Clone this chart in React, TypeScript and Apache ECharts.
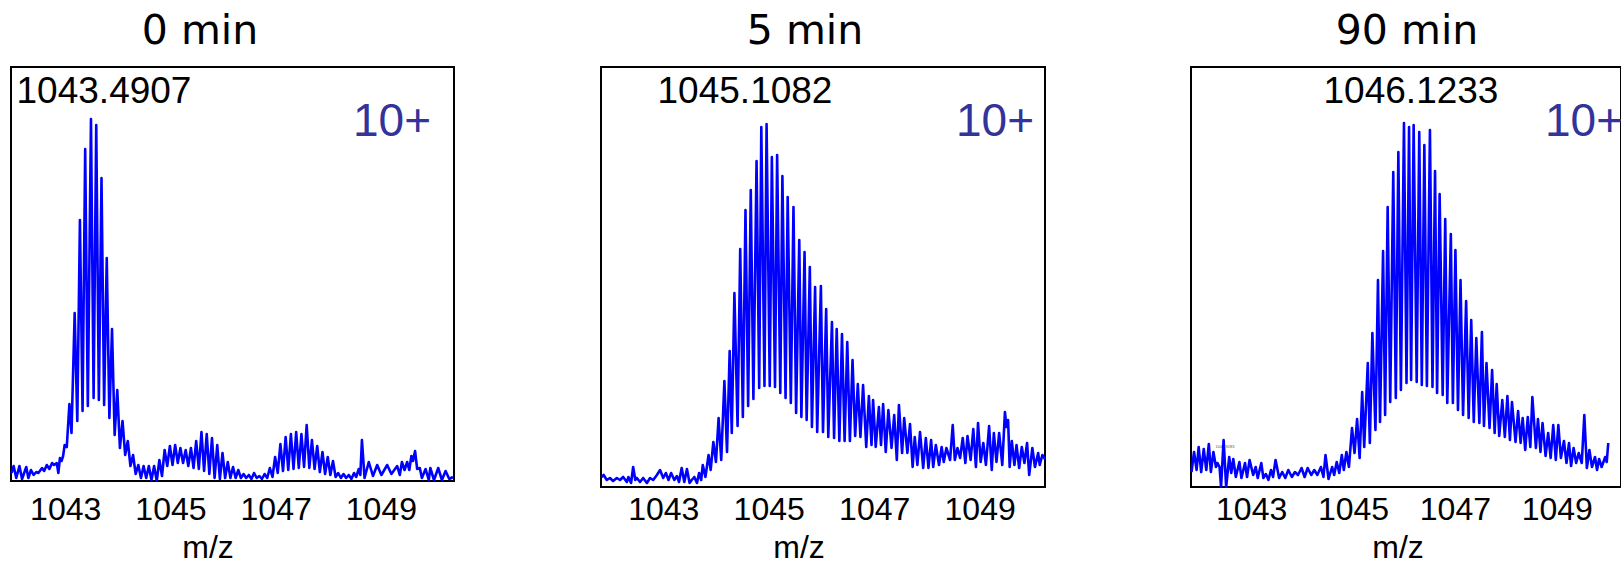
import React, { useEffect, useRef } from 'react';
import * as echarts from 'echarts';

// Relative intensity (a.u.) vs m/z
const spectrum0min: [number, number][] = [
  [1041.97, 8], [1042.01, 15], [1042.06, 3], [1042.12, 15], [1042.17, 2], [1042.25, 14], [1042.29, 3],
  [1042.34, 11], [1042.39, 6], [1042.44, 9], [1042.48, 8], [1042.55, 13], [1042.59, 10], [1042.64, 16],
  [1042.69, 12], [1042.74, 18], [1042.78, 16], [1042.83, 18], [1042.86, 8], [1042.89, 23], [1042.92, 20],
  [1042.95, 25], [1042.98, 36], [1043.02, 34], [1043.07, 77], [1043.11, 48], [1043.17, 168], [1043.22, 60],
  [1043.27, 261], [1043.32, 70], [1043.37, 332], [1043.42, 75], [1043.48, 362], [1043.53, 83], [1043.58, 356],
  [1043.63, 81], [1043.68, 303], [1043.73, 76], [1043.78, 223], [1043.83, 63], [1043.88, 152], [1043.93, 46],
  [1043.98, 91], [1044.03, 33], [1044.08, 60], [1044.13, 26], [1044.18, 40], [1044.23, 15], [1044.28, 26],
  [1044.33, 7], [1044.38, 16], [1044.43, 3], [1044.48, 15], [1044.53, 3], [1044.58, 15], [1044.63, 1],
  [1044.68, 15], [1044.73, 0], [1044.78, 21], [1044.83, 5], [1044.88, 31], [1044.93, 15], [1044.98, 35],
  [1045.03, 16], [1045.08, 36], [1045.13, 18], [1045.18, 33], [1045.23, 18], [1045.28, 31], [1045.33, 15],
  [1045.38, 33], [1045.43, 13], [1045.48, 40], [1045.53, 12], [1045.58, 49], [1045.63, 10], [1045.68, 47],
  [1045.73, 7], [1045.78, 43], [1045.83, 3], [1045.88, 36], [1045.93, 2], [1045.98, 28], [1046.03, 3],
  [1046.08, 19], [1046.13, 3], [1046.18, 14], [1046.23, 3], [1046.28, 11], [1046.33, 3], [1046.38, 7],
  [1046.43, 3], [1046.48, 6], [1046.53, 2], [1046.58, 8], [1046.63, 3], [1046.68, 5], [1046.73, 2],
  [1046.78, 7], [1046.83, 3], [1046.88, 13], [1046.93, 4], [1046.98, 24], [1047.03, 8], [1047.08, 37],
  [1047.13, 10], [1047.18, 44], [1047.23, 11], [1047.28, 47], [1047.33, 12], [1047.38, 49], [1047.43, 13],
  [1047.48, 47], [1047.53, 14], [1047.58, 56], [1047.63, 13], [1047.68, 41], [1047.73, 12], [1047.78, 35],
  [1047.83, 9], [1047.88, 29], [1047.93, 7], [1047.98, 24], [1048.03, 6], [1048.08, 20], [1048.13, 4],
  [1048.18, 8], [1048.23, 3], [1048.28, 7], [1048.33, 3], [1048.38, 6], [1048.43, 2], [1048.48, 8],
  [1048.52, 4], [1048.57, 12], [1048.60, 6], [1048.63, 41], [1048.68, 3], [1048.76, 19], [1048.84, 5],
  [1048.92, 16], [1049.00, 6], [1049.11, 16], [1049.19, 7], [1049.30, 15], [1049.35, 6], [1049.39, 19],
  [1049.44, 11], [1049.49, 19], [1049.53, 11], [1049.57, 25], [1049.60, 20], [1049.64, 30], [1049.68, 12],
  [1049.73, 13], [1049.77, 3], [1049.84, 12], [1049.90, 1], [1049.93, 13], [1050.00, 1], [1050.08, 13],
  [1050.15, 1], [1050.22, 10], [1050.29, 2], [1050.36, 4],
];

const spectrum5min: [number, number][] = [
  [1041.82, 10], [1041.86, 12], [1041.92, 7], [1041.98, 9], [1042.04, 6], [1042.11, 9], [1042.17, 7],
  [1042.23, 10], [1042.30, 5], [1042.33, 10], [1042.38, 4], [1042.42, 20], [1042.46, 7], [1042.49, 9],
  [1042.55, 5], [1042.61, 9], [1042.68, 4], [1042.74, 9], [1042.80, 7], [1042.87, 12], [1042.93, 17],
  [1042.99, 9], [1043.04, 14], [1043.09, 7], [1043.14, 14], [1043.20, 7], [1043.25, 11], [1043.29, 5],
  [1043.34, 19], [1043.39, 5], [1043.44, 18], [1043.49, 4], [1043.53, 7], [1043.58, 10], [1043.63, 4],
  [1043.67, 14], [1043.71, 7], [1043.74, 22], [1043.79, 10], [1043.85, 32], [1043.89, 17], [1043.94, 45],
  [1043.99, 25], [1044.04, 69], [1044.09, 27], [1044.15, 106], [1044.20, 35], [1044.25, 136], [1044.29, 54],
  [1044.34, 194], [1044.40, 61], [1044.45, 238], [1044.50, 70], [1044.55, 277], [1044.60, 81], [1044.65, 297],
  [1044.70, 88], [1044.76, 326], [1044.81, 99], [1044.85, 360], [1044.91, 101], [1044.95, 363], [1045.01, 101],
  [1045.05, 330], [1045.11, 100], [1045.15, 332], [1045.21, 94], [1045.25, 311], [1045.31, 89], [1045.35, 290],
  [1045.41, 84], [1045.46, 280], [1045.51, 74], [1045.57, 247], [1045.61, 70], [1045.67, 235], [1045.71, 67],
  [1045.77, 220], [1045.81, 60], [1045.87, 200], [1045.91, 55], [1045.98, 201], [1046.02, 55], [1046.08, 178],
  [1046.12, 50], [1046.19, 165], [1046.23, 49], [1046.28, 158], [1046.33, 46], [1046.38, 153], [1046.43, 46],
  [1046.48, 145], [1046.53, 46], [1046.58, 127], [1046.63, 51], [1046.68, 103], [1046.73, 50], [1046.78, 102],
  [1046.84, 40], [1046.89, 91], [1046.94, 42], [1046.97, 87], [1047.02, 40], [1047.08, 80], [1047.12, 42],
  [1047.16, 83], [1047.21, 35], [1047.26, 77], [1047.32, 39], [1047.37, 72], [1047.42, 27], [1047.46, 82],
  [1047.52, 34], [1047.56, 69], [1047.62, 34], [1047.67, 63], [1047.72, 20], [1047.76, 50], [1047.81, 22],
  [1047.86, 55], [1047.92, 19], [1047.97, 49], [1048.02, 19], [1048.07, 47], [1048.11, 20], [1048.16, 42],
  [1048.22, 22], [1048.27, 40], [1048.31, 25], [1048.36, 39], [1048.43, 27], [1048.48, 62], [1048.52, 27],
  [1048.57, 39], [1048.62, 29], [1048.67, 49], [1048.72, 24], [1048.76, 51], [1048.82, 27], [1048.87, 58],
  [1048.92, 20], [1048.96, 64], [1049.01, 25], [1049.06, 44], [1049.11, 22], [1049.17, 61], [1049.22, 17],
  [1049.26, 54], [1049.31, 25], [1049.36, 54], [1049.42, 22], [1049.47, 75], [1049.50, 60], [1049.53, 67],
  [1049.56, 20], [1049.60, 46], [1049.65, 22], [1049.69, 42], [1049.74, 19], [1049.79, 40], [1049.84, 24],
  [1049.89, 44], [1049.93, 12], [1049.99, 39], [1050.04, 20], [1050.10, 34], [1050.13, 22], [1050.18, 32],
  [1050.23, 28],
];

const spectrum90min: [number, number][] = [
  [1041.82, 15], [1041.87, 35], [1041.92, 17], [1041.96, 40], [1042.01, 15], [1042.06, 38], [1042.11, 17],
  [1042.16, 43], [1042.20, 15], [1042.25, 35], [1042.30, 20], [1042.33, 24], [1042.37, 20], [1042.40, 0],
  [1042.45, 47], [1042.50, 0], [1042.56, 30], [1042.60, 14], [1042.64, 28], [1042.69, 10], [1042.76, 25],
  [1042.80, 9], [1042.87, 24], [1042.91, 10], [1042.96, 27], [1043.03, 12], [1043.08, 20], [1043.12, 9],
  [1043.19, 24], [1043.23, 9], [1043.28, 13], [1043.33, 7], [1043.38, 17], [1043.42, 10], [1043.47, 27],
  [1043.54, 9], [1043.60, 15], [1043.66, 9], [1043.72, 17], [1043.79, 10], [1043.85, 15], [1043.91, 12],
  [1043.98, 19], [1044.04, 10], [1044.10, 19], [1044.17, 12], [1044.23, 17], [1044.29, 12], [1044.36, 20],
  [1044.41, 10], [1044.45, 32], [1044.51, 8], [1044.58, 20], [1044.62, 12], [1044.67, 25], [1044.72, 14],
  [1044.77, 32], [1044.81, 17], [1044.86, 35], [1044.91, 20], [1044.97, 59], [1045.02, 34], [1045.07, 68],
  [1045.12, 29], [1045.17, 95], [1045.21, 40], [1045.28, 124], [1045.32, 44], [1045.37, 154], [1045.43, 57],
  [1045.48, 207], [1045.52, 65], [1045.58, 236], [1045.62, 72], [1045.67, 280], [1045.72, 85], [1045.78, 315],
  [1045.83, 89], [1045.88, 335], [1045.93, 97], [1045.99, 364], [1046.04, 104], [1046.09, 360], [1046.13, 107],
  [1046.18, 362], [1046.24, 105], [1046.29, 355], [1046.34, 102], [1046.39, 342], [1046.44, 101], [1046.50, 357],
  [1046.55, 100], [1046.60, 316], [1046.64, 94], [1046.69, 293], [1046.75, 92], [1046.80, 268], [1046.84, 84],
  [1046.91, 253], [1046.95, 84], [1047.00, 237], [1047.05, 77], [1047.10, 207], [1047.15, 72], [1047.21, 186],
  [1047.26, 69], [1047.31, 167], [1047.36, 65], [1047.41, 149], [1047.47, 64], [1047.52, 155], [1047.56, 61],
  [1047.61, 124], [1047.67, 59], [1047.72, 117], [1047.77, 54], [1047.81, 103], [1047.86, 51], [1047.92, 87],
  [1047.97, 50], [1048.02, 91], [1048.07, 47], [1048.11, 85], [1048.18, 45], [1048.23, 76], [1048.28, 44],
  [1048.32, 69], [1048.37, 37], [1048.42, 70], [1048.47, 40], [1048.51, 90], [1048.58, 39], [1048.62, 68],
  [1048.67, 35], [1048.71, 64], [1048.77, 31], [1048.82, 54], [1048.87, 29], [1048.92, 62], [1048.97, 27],
  [1049.02, 62], [1049.07, 29], [1049.13, 46], [1049.18, 24], [1049.23, 44], [1049.27, 21], [1049.32, 39],
  [1049.37, 24], [1049.42, 34], [1049.48, 24], [1049.53, 72], [1049.58, 19], [1049.63, 37], [1049.68, 20],
  [1049.74, 30], [1049.78, 17], [1049.82, 28], [1049.87, 20], [1049.94, 30], [1049.97, 25], [1050.00, 44],
];

const panelTitles = ['0 min', '5 min', '90 min'];
const peakLabels = ['1043.4907', '1045.1082', '1046.1233'];
const chargeLabels = ['10+', '10+', '10+'];
const tickValues = [1043, 1045, 1047, 1049];
const xAxisName = 'm/z';
const xMin = [1041.96, 1041.81, 1041.81];
const xMax = [1050.38, 1050.23, 1050.25];
const yMax = [414, 420, 420];

const spectra = [spectrum0min, spectrum5min, spectrum90min];

const grids = [
  { left: 11, top: 67, width: 443, height: 414 },
  { left: 601, top: 67, width: 444, height: 420 },
  { left: 1191, top: 67, width: 444, height: 420 },
];
const titleX = [200, 805, 1407];
const peakLabelX = [104, 745, 1411];
const chargeX = [392, 995, 1584];
const axisNameX = [208, 799, 1398];
const labelMargin = [12, 6, 6];

function txt(text: string, x: number, y: number, font: string, fill: string) {
  return {
    type: 'text',
    x,
    y,
    silent: true,
    style: {
      text,
      font,
      fill,
      align: 'center',
      verticalAlign: 'middle',
      textAlign: 'center',
      textVerticalAlign: 'middle',
    },
  };
}

export default function App() {
  const ref = useRef<HTMLDivElement>(null);
  useEffect(() => {
    const chart = echarts.init(ref.current!, null, { renderer: 'svg' });
    const graphics: any[] = [];
    for (let i = 0; i < 3; i++) {
      graphics.push(txt(panelTitles[i], titleX[i], 30, '41px "DejaVu Sans"', '#000'));
      graphics.push(txt(peakLabels[i], peakLabelX[i], 90, '37px "Liberation Sans"', '#000'));
      graphics.push(txt(chargeLabels[i], chargeX[i], 120, '46px "Liberation Sans"', '#333399'));
      graphics.push(txt(xAxisName, axisNameX[i], 547, '32px "Liberation Sans"', '#000'));
    }
    graphics.push(txt('1042.9283', 1225, 446, '4px "Liberation Sans"', '#555'));

    chart.setOption({
      animation: false,
      grid: grids.map((g) => ({
        ...g,
        show: true,
        borderColor: '#000',
        borderWidth: 2,
        backgroundColor: 'transparent',
        containLabel: false,
      })),
      xAxis: grids.map((_, i) => ({
        type: 'value',
        gridIndex: i,
        min: xMin[i],
        max: xMax[i],
        axisLine: { show: false },
        axisTick: { show: false },
        splitLine: { show: false },
        axisLabel: {
          customValues: tickValues,
          fontSize: 32,
          fontFamily: 'Liberation Sans',
          color: '#000',
          margin: labelMargin[i],
          formatter: (v: number) => String(Math.round(v)),
        },
      })),
      yAxis: grids.map((_, i) => ({
        type: 'value',
        gridIndex: i,
        min: 0,
        max: yMax[i],
        show: false,
      })),
      series: spectra.map((d, i) => ({
        type: 'line',
        xAxisIndex: i,
        yAxisIndex: i,
        data: d,
        showSymbol: false,
        symbol: 'none',
        clip: true,
        lineStyle: { color: '#0000ff', width: 2.6, join: 'round' },
        emphasis: { disabled: true },
      })),
      graphic: graphics,
    });
    return () => chart.dispose();
  }, []);
  return (
    <div
      ref={ref}
      style={{ position: 'absolute', left: 0, top: 0, width: 1621, height: 567 }}
    />
  );
}
